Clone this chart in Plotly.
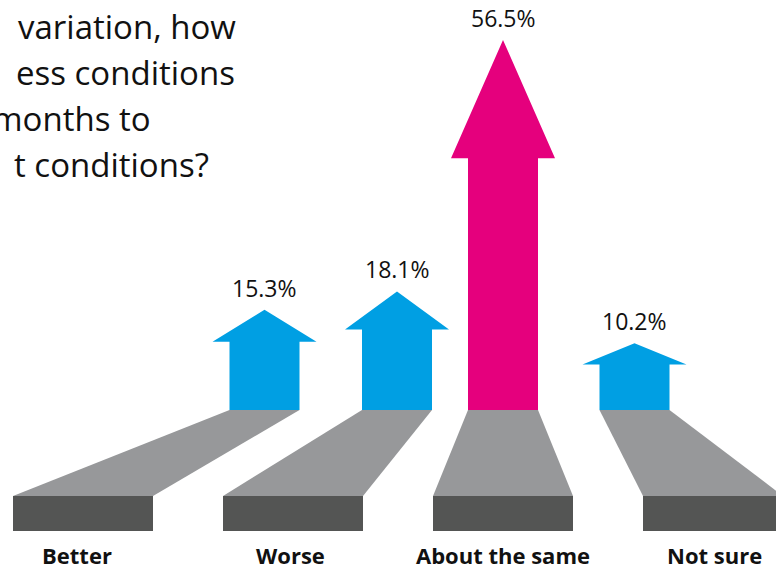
import plotly.graph_objects as go

# ---- data ----
categories = ["Better", "Worse", "About the same", "Not sure"]
values = [15.3, 18.1, 56.5, 10.2]
value_labels = ["15.3%", "18.1%", "56.5%", "10.2%"]
highlight = [False, False, True, False]
title_lines = ["variation, how", "ess conditions", "months to", "t conditions?"]

# ---- layout constants (pixels) ----
W, H = 776, 570
BASE_PX = 410          # pixel row of the arrows' base (0 %)
PX_PER_PCT = 6.55      # vertical scale
arrow_cx = [264.5, 397, 503, 634.5]
block_x0 = [13, 223, 433, 643]
label_cx = [77, 290, 503, 714]
SHAFT_HALF = 35
HEAD_HALF = 52
HEAD_FRAC = 0.32
BLOCK_W = 140
ROAD_BOTTOM_PX = 496
BLOCK_BOTTOM_PX = 531

BLUE = "#009FE3"
MAGENTA = "#E5007D"
ROAD = "#97989A"
BLOCK = "#545554"
FONT = "Open Sans"


def px_to_y(py):
    return (BASE_PX - py) / PX_PER_PCT


y_min = px_to_y(H)
y_max = px_to_y(0)

fig = go.Figure()
shapes = []

# roads (decorative perspective paths)
road_b = px_to_y(ROAD_BOTTOM_PX)
block_b = px_to_y(BLOCK_BOTTOM_PX)
for cx, bx in zip(arrow_cx, block_x0):
    path = (f"M {cx-SHAFT_HALF},0 L {cx+SHAFT_HALF},0 L {bx+BLOCK_W},{road_b} "
            f"L {bx},{road_b} Z")
    shapes.append(dict(type="path", path=path, fillcolor=ROAD, line=dict(width=0),
                       layer="below", xref="x", yref="y"))
    shapes.append(dict(type="rect", x0=bx, x1=bx + BLOCK_W, y0=block_b, y1=road_b,
                       fillcolor=BLOCK, line=dict(width=0), layer="below",
                       xref="x", yref="y"))

# arrows from values
for cx, v, hl in zip(arrow_cx, values, highlight):
    hb = v * (1 - HEAD_FRAC)
    xs = [cx - SHAFT_HALF, cx - SHAFT_HALF, cx - HEAD_HALF, cx, cx + HEAD_HALF,
          cx + SHAFT_HALF, cx + SHAFT_HALF, cx - SHAFT_HALF]
    ys = [0, hb, hb, v, hb, hb, 0, 0]
    fig.add_trace(go.Scatter(x=xs, y=ys, mode="lines", fill="toself",
                             fillcolor=MAGENTA if hl else BLUE,
                             line=dict(width=0), hoverinfo="skip",
                             showlegend=False))

annotations = []
for cx, v, lab in zip(arrow_cx, values, value_labels):
    annotations.append(dict(x=cx, y=v, xref="x", yref="y", text=lab,
                            showarrow=False, yanchor="bottom", yshift=4,
                            font=dict(family=FONT, size=23, color="#111111")))

label_y = px_to_y(555)
for cx, cat in zip(label_cx, categories):
    annotations.append(dict(x=cx, y=label_y, xref="x", yref="y",
                            text=f"<b>{cat}</b>", showarrow=False,
                            yanchor="middle", borderpad=0,
                            font=dict(family=FONT, size=22, color="#111111")))

title_right = [238, 237, 153, 211]
title_y = [26, 72, 118, 164]
for t, xr, ty in zip(title_lines, title_right, title_y):
    annotations.append(dict(x=xr, y=px_to_y(ty), xref="x", yref="y", text=t,
                            showarrow=False, xanchor="right", yanchor="middle",
                            font=dict(family=FONT, size=33, color="#111111")))

fig.update_layout(
    width=W, height=H,
    margin=dict(l=0, r=0, t=0, b=0),
    paper_bgcolor="white", plot_bgcolor="white",
    xaxis=dict(range=[0, W], visible=False, fixedrange=True),
    yaxis=dict(range=[y_min, y_max], visible=False, fixedrange=True),
    shapes=shapes, annotations=annotations, showlegend=False,
)

fig.write_html(
    "out.html",
    config={"displayModeBar": False},
    post_script="document.body.style.margin='0';document.body.style.overflow='hidden';",
)
